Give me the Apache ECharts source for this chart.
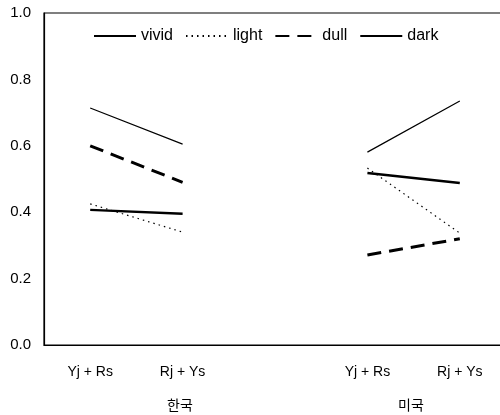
<!DOCTYPE html>
<html><head><meta charset="utf-8">
<script src="https://cdn.jsdelivr.net/npm/echarts@6/dist/echarts.min.js"></script>
<style>html,body{margin:0;padding:0;background:#fff}#c{width:500px;height:415px}</style>
</head><body><div id="c"></div>
<script>
const categories = ['Yj + Rs', 'Rj + Ys', '', 'Yj + Rs', 'Rj + Ys'];
const groupLabels = ['한국', '미국'];
const yTicks = [0, 0.2, 0.4, 0.6, 0.8, 1.0];
const vivid = [0.714, 0.605, null, 0.581, 0.735];
const light = [0.425, 0.340, null, 0.533, 0.337];
const dull  = [0.600, 0.490, null, 0.271, 0.320];
const dark  = [0.407, 0.395, null, 0.518, 0.488];

const font = 'Liberation Sans, Arial, sans-serif';
const chart = echarts.init(document.getElementById('c'), null, {renderer: 'canvas'});
function s(name, data, width, dash) {
  return {
    name, type: 'line', data, symbol: 'none', showSymbol: false, connectNulls: false,
    lineStyle: {color: '#000', width, type: dash},
    itemStyle: {color: '#000'}
  };
}
chart.setOption({
  animation: false,
  textStyle: {fontFamily: font},
  grid: {left: 44, top: 13, width: 462, height: 332, outerBoundsMode: 'none', containLabel: false,
    show: true, borderColor: '#000', borderWidth: 1.2},
  legend: {
    left: 88, top: 23, itemWidth: 42, itemHeight: 14, itemGap: 12,
    itemStyle: {opacity: 0},
    textStyle: {fontSize: 16, color: '#000', fontFamily: font},
    data: ['vivid', 'light', 'dull', 'dark']
  },
  xAxis: {
    type: 'category', data: categories, boundaryGap: true,
    axisLine: {lineStyle: {color: '#000', width: 1.2}},
    axisTick: {show: false},
    axisLabel: {color: '#000', fontSize: 14, margin: 20, fontFamily: font, interval: 0}
  },
  yAxis: {
    type: 'value', min: 0, max: 1, interval: 0.2,
    splitLine: {show: false},
    axisLine: {show: true, lineStyle: {color: '#000', width: 1.2}},
    axisTick: {show: false},
    axisLabel: {color: '#000', fontSize: 15, margin: 13, fontFamily: font,
      formatter: v => yTicks.includes(Math.round(v * 10) / 10) ? v.toFixed(1) : ''}
  },
  graphic: [
    {type: 'text', left: 167, top: 398, style: {text: groupLabels[0], fontSize: 14, fill: '#000', fontFamily: 'Noto Sans CJK KR'}},
    {type: 'text', left: 398, top: 398, style: {text: groupLabels[1], fontSize: 14, fill: '#000', fontFamily: 'Noto Sans CJK KR'}}
  ],
  series: [
    s('vivid', vivid, 1.2, 'solid'),
    s('light', light, 1.2, [1.5, 4]),
    s('dull', dull, 3, [14, 8]),
    s('dark', dark, 2.5, 'solid')
  ]
});
</script></body></html>
